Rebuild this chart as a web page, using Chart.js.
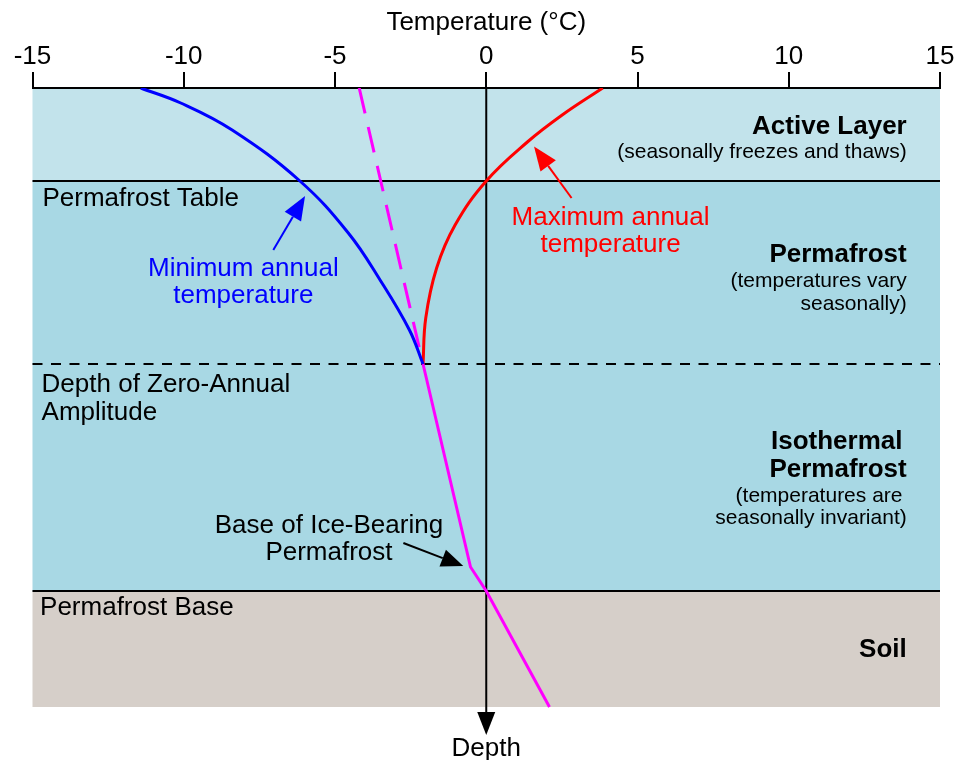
<!DOCTYPE html>
<html>
<head>
<meta charset="utf-8">
<script src="https://cdn.jsdelivr.net/npm/chart.js@4"></script>
<style>
html, body { margin: 0; padding: 0; background: #ffffff; }
canvas { display: block; }
</style>
</head>
<body>
<canvas id="c" width="957" height="760"></canvas>
<script>
// ---------------- data (temperature in °C, depth in arbitrary depth units, increasing downward) ----------------
const xTickValues = [-15, -10, -5, 0, 5, 10, 15];

const minAnnualTemp  = [-11.42, -10.1, -8.40, -6.16, -4.56, -3.51, -2.54, -2.09];
const minAnnualDepth = [0, 15, 42, 93, 145, 192, 242, 276];

const maxAnnualTemp  = [3.85, 2.51, 1.36, 0.0, -1.03, -1.64, -2.00, -2.09];
const maxAnnualDepth = [0, 27, 54, 93, 137, 180, 230, 276];

const meanUpperTemp  = [-4.2, -2.09];
const meanUpperDepth = [0, 276];

const meanLowerTemp  = [-2.09, -0.52, 0.0, 2.09];
const meanLowerDepth = [276, 479, 503, 619];

const layerNames   = ['Active Layer', 'Permafrost', 'Isothermal Permafrost', 'Soil'];
const layerTop     = [0, 93, 276, 503];
const layerBottom  = [93, 276, 503, 619];
const depthMax     = 652;
const depthArrowEnd = 647;

// ---------------- styles ----------------
const FONT = '"Liberation Sans", Arial, Helvetica, sans-serif';
const layerColors = ['#c2e3eb', '#a8d8e4', '#a8d8e4', '#d6cfc9'];
const BLUE = '#0000ff', RED = '#ff0000', MAGENTA = '#ff00ff';

function pts(xs, ys) { return xs.map((v, i) => ({ x: v, y: ys[i] })); }

function arrow(ctx, x1, y1, x2, y2, color, lw, headLen, headHalf) {
  const ang = Math.atan2(y2 - y1, x2 - x1);
  const bx = x2 - headLen * Math.cos(ang), by = y2 - headLen * Math.sin(ang);
  ctx.save();
  ctx.strokeStyle = color; ctx.fillStyle = color; ctx.lineWidth = lw;
  ctx.beginPath(); ctx.moveTo(x1, y1); ctx.lineTo(bx, by); ctx.stroke();
  ctx.beginPath();
  ctx.moveTo(x2, y2);
  ctx.lineTo(bx + headHalf * Math.sin(ang), by - headHalf * Math.cos(ang));
  ctx.lineTo(bx - headHalf * Math.sin(ang), by + headHalf * Math.cos(ang));
  ctx.closePath(); ctx.fill();
  ctx.restore();
}

const overlay = {
  id: 'overlay',
  beforeDraw(chart) {
    const { ctx, chartArea: a, scales: { y } } = chart;
    ctx.save();
    ctx.fillStyle = '#ffffff';
    ctx.fillRect(0, 0, chart.width, chart.height);
    layerTop.forEach((top, i) => {
      const y0 = y.getPixelForValue(top), y1 = y.getPixelForValue(layerBottom[i]);
      ctx.fillStyle = layerColors[i];
      ctx.fillRect(a.left, y0, a.right - a.left, y1 - y0);
    });
    ctx.restore();
  },
  beforeDatasetsDraw(chart) {
    const { ctx, chartArea: a, scales: { x, y } } = chart;
    ctx.save();
    ctx.strokeStyle = '#000'; ctx.lineWidth = 2;
    [0, 1, 2].forEach(i => {
      const py = Math.round(y.getPixelForValue(layerBottom[i]));
      ctx.setLineDash(i === 1 ? [10, 8.5] : []);
      ctx.beginPath(); ctx.moveTo(a.left, py); ctx.lineTo(a.right, py); ctx.stroke();
    });
    ctx.setLineDash([]);
    ctx.restore();
    const x0 = x.getPixelForValue(0);
    arrow(ctx, x0, y.getPixelForValue(0), x0, y.getPixelForValue(depthArrowEnd), '#000', 2, 23, 9);
  },
  afterDatasetsDraw(chart) {
    const { ctx, scales: { x, y } } = chart;
    const P = (t, d) => [x.getPixelForValue(t), y.getPixelForValue(d)];
    function txt(s, t, d, align, size, bold, color) {
      const [px, py] = P(t, d);
      ctx.save();
      ctx.font = (bold ? 'bold ' : '') + size + 'px ' + FONT;
      ctx.fillStyle = color || '#000';
      ctx.textAlign = align; ctx.textBaseline = 'middle';
      ctx.fillText(s, px, py);
      ctx.restore();
    }
    txt('Permafrost Table', -14.67, 111, 'left', 26, false);
    txt('Depth of Zero-Annual', -14.7, 297, 'left', 26, false);
    txt('Amplitude', -14.7, 325, 'left', 26, false);
    txt('Permafrost Base', -14.75, 520, 'left', 26, false);
    const rx = 13.9;
    txt('Active Layer', rx, 39, 'right', 26, true);
    txt('(seasonally freezes and thaws)', rx, 64, 'right', 21, false);
    txt('Permafrost', rx, 167, 'right', 26, true);
    txt('(temperatures vary', rx, 193, 'right', 21, false);
    txt('seasonally)', rx, 216, 'right', 21, false);
    txt('Isothermal', 13.76, 354, 'right', 26, true);
    txt('Permafrost', rx, 382, 'right', 26, true);
    txt('(temperatures are', 13.76, 408, 'right', 21, false);
    txt('seasonally invariant)', rx, 430, 'right', 21, false);
    txt('Soil', rx, 562, 'right', 26, true);
    txt('Minimum annual', -8.03, 181, 'center', 26, false, BLUE);
    txt('temperature', -8.03, 208, 'center', 26, false, BLUE);
    txt('Maximum annual', 4.11, 130, 'center', 26, false, RED);
    txt('temperature', 4.11, 157, 'center', 26, false, RED);
    txt('Base of Ice-Bearing', -5.2, 438, 'center', 26, false);
    txt('Permafrost', -5.2, 465, 'center', 26, false);
    txt('Depth', 0, 661, 'center', 26, false);
    let a = P(-7.04, 162), b = P(-5.99, 108);
    arrow(ctx, a[0], a[1], b[0], b[1], BLUE, 2, 24, 9.5);
    a = P(2.82, 110); b = P(1.58, 58.5);
    arrow(ctx, a[0], a[1], b[0], b[1], RED, 2, 24, 9.5);
    a = P(-2.74, 455); b = P(-0.76, 478);
    arrow(ctx, a[0], a[1], b[0], b[1], '#000', 2, 22, 9);
  }
};

new Chart(document.getElementById('c'), {
  type: 'line',
  data: {
    datasets: [
      { label: 'Minimum annual temperature', data: pts(minAnnualTemp, minAnnualDepth),
        borderColor: BLUE, borderWidth: 3, tension: 0.4 },
      { label: 'Maximum annual temperature', data: pts(maxAnnualTemp, maxAnnualDepth),
        borderColor: RED, borderWidth: 3, tension: 0.4 },
      { label: 'Mean (upper)', data: pts(meanUpperTemp, meanUpperDepth),
        borderColor: MAGENTA, borderWidth: 3, borderDash: [26, 14] },
      { label: 'Mean (lower)', data: pts(meanLowerTemp, meanLowerDepth),
        borderColor: MAGENTA, borderWidth: 3 }
    ]
  },
  options: {
    responsive: false,
    animation: false,
    devicePixelRatio: 1,
    indexAxis: 'y',
    layout: { padding: { left: 32.5, right: 17, top: 0, bottom: 20 } },
    elements: { point: { radius: 0, hoverRadius: 0 }, line: { fill: false } },
    plugins: { legend: { display: false }, tooltip: { enabled: false } },
    events: [],
    scales: {
      x: {
        type: 'linear', position: 'top', min: -15, max: 15,
        afterBuildTicks(scale) { scale.ticks = xTickValues.map(v => ({ value: v })); },
        afterFit(scale) { scale.height = 88; },
        ticks: { color: '#000', padding: 0, font: { family: FONT, size: 26 }, maxRotation: 0, autoSkip: false,
          callback: v => String(v) },
        grid: { display: true, drawOnChartArea: false, drawTicks: true, tickLength: 16, color: '#000', lineWidth: 2 },
        border: { display: true, color: '#000', width: 2 },
        title: { display: true, text: 'Temperature (°C)', color: '#000', font: { family: FONT, size: 26 },
          padding: { top: 7, bottom: 0 } }
      },
      y: {
        type: 'linear', min: 0, max: depthMax, reverse: true, display: false
      }
    }
  },
  plugins: [overlay]
});
</script>
</body>
</html>
